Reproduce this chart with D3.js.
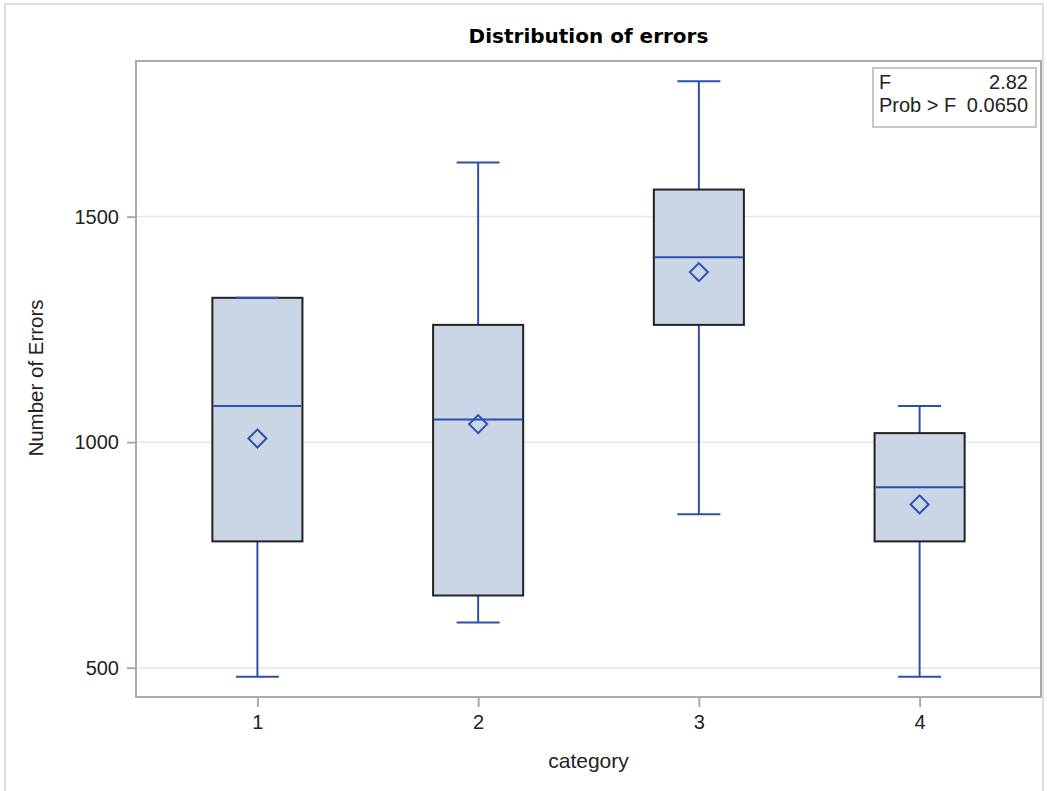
<!DOCTYPE html>
<html>
<head>
<meta charset="utf-8">
<script src="https://cdn.jsdelivr.net/npm/d3@7"></script>
<style>
  html, body { margin: 0; padding: 0; background: #fff; }
  svg { display: block; }
</style>
</head>
<body>
<svg id="chart" width="1047" height="791"></svg>
<script>
// Box plot summary statistics per category
const categories = ["1", "2", "3", "4"];
const whiskerLow  = [480, 600, 840, 480];
const q1Values    = [780, 660, 1260, 780];
const medians     = [1080, 1050, 1410, 900];
const q3Values    = [1320, 1260, 1560, 1020];
const whiskerHigh = [1320, 1620, 1800, 1080];
const means       = [1008, 1040, 1377, 862];
const yTicks      = [500, 1000, 1500];
const statLabels  = ["F", "Prob > F"];
const statValues  = ["2.82", "0.0650"];

const svg = d3.select("#chart");
const plot = { left: 136, right: 1041, top: 61, bottom: 697 };

const blue = "#2b50ad";
const boxFill = "#cad5e5";
const font = "'Liberation Sans', Arial, sans-serif";

// Outer border
svg.append("rect")
  .attr("x", 5).attr("y", 4).attr("width", 1038).attr("height", 800)
  .attr("fill", "none").attr("stroke", "#d6d6d6").attr("stroke-width", 1.5);

const x = d3.scalePoint().domain(categories).range([plot.left, plot.right]).padding(0.55);
const y = d3.scaleLinear().domain([435, 1845]).range([plot.bottom, plot.top]);
const step = x.step();
const boxW = step * 0.408;
const capW = 43;

// Horizontal grid lines
svg.append("g").selectAll("line").data(yTicks).join("line")
  .attr("x1", plot.left).attr("x2", plot.right)
  .attr("y1", d => y(d)).attr("y2", d => y(d))
  .attr("stroke", "#e6e6e6").attr("stroke-width", 1.5);

// Boxes
const data = categories.map((c, i) => ({
  c, lo: whiskerLow[i], q1: q1Values[i], med: medians[i],
  q3: q3Values[i], hi: whiskerHigh[i], mean: means[i]
}));

const items = svg.append("g").selectAll("g.box").data(data).join("g").attr("class", "box");

// whisker stems
items.append("line")
  .attr("x1", d => x(d.c)).attr("x2", d => x(d.c))
  .attr("y1", d => y(d.q3)).attr("y2", d => y(d.hi))
  .attr("stroke", blue).attr("stroke-width", 2);
items.append("line")
  .attr("x1", d => x(d.c)).attr("x2", d => x(d.c))
  .attr("y1", d => y(d.q1)).attr("y2", d => y(d.lo))
  .attr("stroke", blue).attr("stroke-width", 2);
// box body
items.append("rect")
  .attr("x", d => x(d.c) - boxW / 2).attr("width", boxW)
  .attr("y", d => y(d.q3)).attr("height", d => y(d.q1) - y(d.q3))
  .attr("fill", boxFill).attr("stroke", "#222").attr("stroke-width", 2);
// whisker caps (drawn after the box so a cap on the box edge stays visible)
items.append("line")
  .attr("x1", d => x(d.c) - capW / 2).attr("x2", d => x(d.c) + capW / 2)
  .attr("y1", d => y(d.hi)).attr("y2", d => y(d.hi))
  .attr("stroke", blue).attr("stroke-width", 2);
items.append("line")
  .attr("x1", d => x(d.c) - capW / 2).attr("x2", d => x(d.c) + capW / 2)
  .attr("y1", d => y(d.lo)).attr("y2", d => y(d.lo))
  .attr("stroke", blue).attr("stroke-width", 2);
// median
items.append("line")
  .attr("x1", d => x(d.c) - boxW / 2 + 1).attr("x2", d => x(d.c) + boxW / 2 - 1)
  .attr("y1", d => y(d.med)).attr("y2", d => y(d.med))
  .attr("stroke", blue).attr("stroke-width", 2);
// mean marker
const dm = 9;
items.append("path")
  .attr("d", d => {
    const cx = x(d.c), cy = y(d.mean);
    return `M${cx},${cy - dm} L${cx + dm},${cy} L${cx},${cy + dm} L${cx - dm},${cy} Z`;
  })
  .attr("fill", "none").attr("stroke", blue).attr("stroke-width", 2);

// Plot frame
svg.append("rect")
  .attr("x", plot.left).attr("y", plot.top)
  .attr("width", plot.right - plot.left).attr("height", plot.bottom - plot.top)
  .attr("fill", "none").attr("stroke", "#a8aaad").attr("stroke-width", 2);

// Axes
const yAxis = svg.append("g")
  .attr("transform", `translate(${plot.left},0)`)
  .call(d3.axisLeft(y).tickValues(yTicks).tickSize(9).tickPadding(8).tickFormat(d3.format("d")));
const xAxis = svg.append("g")
  .attr("transform", `translate(0,${plot.bottom})`)
  .call(d3.axisBottom(x).tickSize(10).tickPadding(8));
[yAxis, xAxis].forEach(a => {
  a.select(".domain").remove();
  a.selectAll(".tick line").attr("stroke", "#a8aaad").attr("stroke-width", 2);
  a.selectAll(".tick text")
    .attr("fill", "#222")
    .style("font-family", font)
    .style("font-size", "20px");
});

// Title
svg.append("text")
  .attr("x", (plot.left + plot.right) / 2).attr("y", 43)
  .attr("text-anchor", "middle")
  .style("font-family", "'DejaVu Sans', sans-serif")
  .style("font-weight", "bold").style("font-size", "20px")
  .attr("fill", "#000")
  .text("Distribution of errors");

// Axis labels
svg.append("text")
  .attr("x", (plot.left + plot.right) / 2).attr("y", 768)
  .attr("text-anchor", "middle")
  .style("font-family", font)
  .style("font-size", "21px").attr("fill", "#222")
  .text("category");
svg.append("text")
  .attr("transform", "translate(43,378) rotate(-90)")
  .attr("text-anchor", "middle")
  .style("font-family", font)
  .style("font-size", "20.5px").attr("fill", "#222")
  .text("Number of Errors");

// Statistics inset
const inset = svg.append("g");
inset.append("rect")
  .attr("x", 873).attr("y", 68).attr("width", 163).attr("height", 59)
  .attr("fill", "#fff").attr("stroke", "#b5b5b5").attr("stroke-width", 1.5);
statLabels.forEach((lab, i) => {
  inset.append("text")
    .attr("x", 879).attr("y", 89 + i * 23)
    .style("font-family", font)
    .style("font-size", "20px").attr("fill", "#222")
    .text(lab);
  inset.append("text")
    .attr("x", 1028).attr("y", 89 + i * 23)
    .attr("text-anchor", "end")
    .style("font-family", font)
    .style("font-size", "20px").attr("fill", "#222")
    .text(statValues[i]);
});
</script>
</body>
</html>
